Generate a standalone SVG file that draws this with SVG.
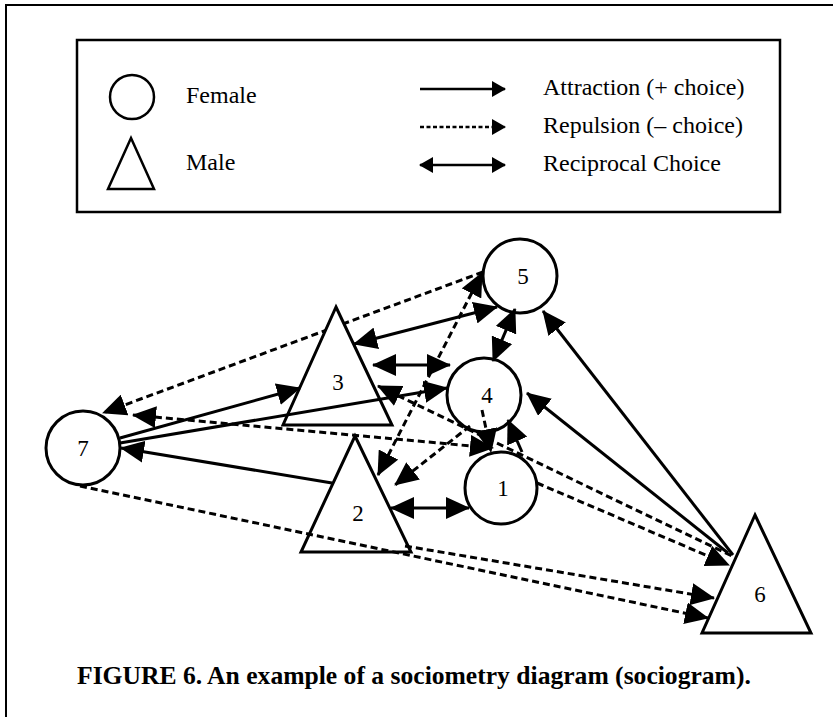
<svg xmlns="http://www.w3.org/2000/svg" width="833" height="717" viewBox="0 0 833 717">
<style>
.node{fill:#fff;stroke:#000;stroke-width:3}
.lbl{font-family:"Liberation Serif","Times New Roman",serif;font-size:23px;text-anchor:middle;fill:#000}
.leg{font-family:"Liberation Serif","Times New Roman",serif;font-size:24px;fill:#000}
.cap{font-family:"Liberation Serif","Times New Roman",serif;font-size:25.6px;font-weight:bold;fill:#000}
.sol{stroke:#000;stroke-width:3;fill:none}
.dash{stroke:#000;stroke-width:3;fill:none;stroke-dasharray:7 4}
.a{marker-end:url(#ah)}
.b{marker-start:url(#ah);marker-end:url(#ah)}
.s{marker-start:url(#ah)}
</style>
<defs>
<marker id="ah" viewBox="0 0 24 22" markerWidth="24" markerHeight="22" refX="23" refY="11" orient="auto-start-reverse" markerUnits="userSpaceOnUse"><path d="M0,0 L24,11 L0,22 z" fill="#000"/></marker>
<marker id="lah" viewBox="0 0 14 16" markerWidth="14" markerHeight="16" refX="13" refY="8" orient="auto-start-reverse" markerUnits="userSpaceOnUse"><path d="M0,0 L14,8 L0,16 z" fill="#000"/></marker>
</defs>
<rect width="833" height="717" fill="#fff"/>
<path d="M6,717 V5 H833" fill="none" stroke="#000" stroke-width="2"/>
<g id="legend">
<rect x="77" y="40" width="703" height="172" fill="none" stroke="#000" stroke-width="2.5"/>
<ellipse cx="132" cy="97" rx="22" ry="22" fill="none" stroke="#000" stroke-width="2.5"/>
<polygon points="131,138 154,189 108,189" fill="none" stroke="#000" stroke-width="2.5"/>
<text class="leg" x="186" y="103">Female</text>
<text class="leg" x="186" y="170">Male</text>
<line x1="420" y1="89" x2="505" y2="89" stroke="#000" stroke-width="2.5" marker-end="url(#lah)"/>
<line x1="420" y1="127" x2="505" y2="127" stroke="#000" stroke-width="2.5" stroke-dasharray="4 2.5" marker-end="url(#lah)"/>
<line x1="420" y1="165" x2="505" y2="165" stroke="#000" stroke-width="2.5" marker-start="url(#lah)" marker-end="url(#lah)"/>
<text class="leg" x="543" y="95">Attraction (+ choice)</text>
<text class="leg" x="543" y="133">Repulsion (– choice)</text>
<text class="leg" x="543" y="171">Reciprocal Choice</text>
</g>
<g id="connectors-under">
<line class="dash a" x1="483" y1="272" x2="103" y2="413"/>
</g>
<g id="n5"><circle class="node" cx="520" cy="276" r="37"/><text class="lbl" x="523" y="284">5</text></g>
<g id="n4"><circle class="node" cx="484" cy="395" r="37"/><text class="lbl" x="487" y="403">4</text></g>
<g id="n1"><circle class="node" cx="501" cy="488" r="36"/><text class="lbl" x="503" y="496">1</text></g>
<g id="n7"><circle class="node" cx="83" cy="448" r="37"/><text class="lbl" x="83" y="456">7</text></g>
<g id="n3"><polygon class="node" points="336,307 392,425 283,425"/><text class="lbl" x="338" y="390">3</text></g>
<g id="n2"><polygon class="node" points="355,436 411,552 301,552"/><text class="lbl" x="358" y="521">2</text></g>
<g id="n6"><polygon class="node" points="755,515 811,633 702,633"/><text class="lbl" x="760" y="602">6</text></g>
<g id="connectors">
<line class="dash b" x1="378" y1="475" x2="482" y2="273"/>
<line class="dash a" x1="470" y1="426" x2="395" y2="485"/>
<line class="dash s" x1="378" y1="386" x2="732" y2="556"/>
<line class="dash a" x1="537" y1="483" x2="729" y2="565"/>
<line class="dash b" x1="133" y1="415" x2="493" y2="448"/>
<line class="sol a" x1="120" y1="438" x2="300" y2="388"/>
<line class="sol a" x1="120" y1="443" x2="447" y2="388"/>
<line class="sol a" x1="332" y1="483" x2="121" y2="448"/>
<line class="sol b" x1="391" y1="508" x2="469" y2="508"/>
<line class="dash a" x1="80" y1="486" x2="708" y2="618"/>
<line class="dash a" x1="405" y1="546" x2="714" y2="598"/>
<line class="dash a" x1="482" y1="410" x2="491" y2="452"/>
<line class="sol a" x1="522" y1="452" x2="508" y2="420"/>
<line class="sol b" x1="354" y1="344" x2="497" y2="307"/>
<line class="sol b" x1="373" y1="365" x2="450" y2="365"/>
<line class="sol b" x1="493" y1="361" x2="515" y2="309"/>
<line class="sol a" x1="733" y1="555" x2="543" y2="311"/>
<line class="sol a" x1="728" y1="553" x2="527" y2="393"/>
</g>
<text class="cap" x="77" y="684">FIGURE 6. An example of a sociometry diagram (sociogram).</text>
</svg>
